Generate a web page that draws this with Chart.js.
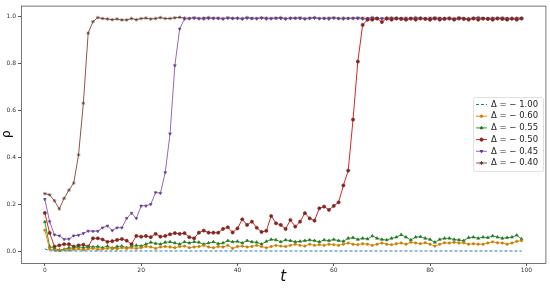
<!DOCTYPE html>
<html>
<head>
<meta charset="utf-8">
<script src="https://cdn.jsdelivr.net/npm/chart.js@4.4.1/dist/chart.umd.min.js"></script>
<style>
  html, body { margin: 0; padding: 0; background: #fff; }
  #wrap { width: 550px; height: 288px; position: relative; }
</style>
</head>
<body>
<div id="wrap"><canvas id="chart"></canvas></div>
<script>
// time steps 0..99
const steps = [
  0,1,2,3,4,5,6,7,8,9,10,11,12,13,14,15,16,17,18,19,
  20,21,22,23,24,25,26,27,28,29,30,31,32,33,34,35,36,37,38,39,
  40,41,42,43,44,45,46,47,48,49,50,51,52,53,54,55,56,57,58,59,
  60,61,62,63,64,65,66,67,68,69,70,71,72,73,74,75,76,77,78,79,
  80,81,82,83,84,85,86,87,88,89,90,91,92,93,94,95,96,97,98,99
];

const deltaLabels = ['Δ = − 1.00', 'Δ = − 0.60', 'Δ = − 0.55', 'Δ = − 0.50', 'Δ = − 0.45', 'Δ = − 0.40'];

const rhoM100 = [
  0.010,0.002,0.001,0.001,0.001,0.001,0.001,0.001,0.001,0.001,
  0.001,0.001,0.001,0.001,0.001,0.001,0.001,0.001,0.001,0.001,
  0.001,0.001,0.001,0.001,0.001,0.001,0.001,0.001,0.001,0.001,
  0.001,0.001,0.001,0.001,0.001,0.001,0.001,0.001,0.001,0.001,
  0.001,0.001,0.001,0.001,0.001,0.001,0.001,0.001,0.001,0.001,
  0.001,0.001,0.001,0.001,0.001,0.001,0.001,0.001,0.001,0.001,
  0.001,0.001,0.001,0.001,0.001,0.001,0.001,0.001,0.001,0.001,
  0.001,0.001,0.001,0.001,0.001,0.001,0.001,0.001,0.001,0.001,
  0.001,0.001,0.001,0.001,0.001,0.001,0.001,0.001,0.001,0.001,
  0.001,0.001,0.001,0.001,0.001,0.001,0.001,0.001,0.001,0.001
];
const rhoM060 = [
  0.090,0.010,0.005,0.003,0.008,0.005,0.008,0.010,0.006,0.010,
  0.012,0.008,0.010,0.012,0.015,0.010,0.015,0.012,0.015,0.012,
  0.015,0.020,0.018,0.012,0.018,0.020,0.018,0.015,0.020,0.022,
  0.015,0.018,0.020,0.025,0.018,0.015,0.020,0.018,0.025,0.012,
  0.020,0.022,0.018,0.020,0.025,0.020,0.015,0.020,0.025,0.022,
  0.020,0.025,0.030,0.025,0.022,0.030,0.025,0.028,0.025,0.030,
  0.028,0.025,0.030,0.035,0.030,0.028,0.032,0.030,0.025,0.030,
  0.035,0.030,0.028,0.032,0.035,0.030,0.038,0.035,0.032,0.036,
  0.030,0.022,0.030,0.036,0.035,0.038,0.035,0.036,0.030,0.032,
  0.030,0.030,0.035,0.040,0.036,0.035,0.030,0.035,0.042,0.045
];
const rhoM055 = [
  0.125,0.020,0.012,0.005,0.008,0.015,0.012,0.020,0.015,0.020,
  0.018,0.020,0.015,0.022,0.012,0.020,0.022,0.015,0.020,0.025,
  0.022,0.030,0.038,0.033,0.030,0.038,0.040,0.035,0.030,0.040,
  0.035,0.040,0.038,0.030,0.035,0.040,0.032,0.035,0.045,0.040,
  0.042,0.035,0.045,0.040,0.038,0.030,0.042,0.050,0.048,0.040,
  0.048,0.045,0.040,0.042,0.045,0.048,0.045,0.040,0.048,0.045,
  0.050,0.045,0.042,0.055,0.058,0.050,0.055,0.052,0.065,0.055,
  0.050,0.048,0.055,0.060,0.070,0.060,0.048,0.060,0.062,0.055,
  0.050,0.038,0.050,0.055,0.055,0.050,0.048,0.045,0.058,0.060,
  0.055,0.060,0.058,0.065,0.060,0.055,0.058,0.060,0.068,0.052
];
const rhoM050 = [
  0.163,0.078,0.020,0.025,0.030,0.030,0.020,0.025,0.028,0.020,
  0.055,0.055,0.050,0.040,0.043,0.048,0.052,0.045,0.030,0.065,
  0.062,0.065,0.060,0.074,0.062,0.065,0.072,0.077,0.074,0.077,
  0.060,0.055,0.079,0.088,0.079,0.079,0.079,0.095,0.102,0.080,
  0.097,0.136,0.112,0.126,0.100,0.082,0.087,0.150,0.119,0.112,
  0.095,0.133,0.105,0.126,0.162,0.140,0.130,0.183,0.190,0.176,
  0.193,0.208,0.280,0.343,0.560,0.807,0.963,0.985,0.985,0.990,
  0.975,0.990,0.985,0.990,0.988,0.985,0.990,0.985,0.990,0.988,
  0.985,0.990,0.985,0.988,0.990,0.985,0.990,0.988,0.985,0.990,
  0.985,0.990,0.988,0.985,0.990,0.988,0.985,0.990,0.985,0.990
];
const rhoM045 = [
  0.221,0.126,0.070,0.066,0.051,0.052,0.066,0.068,0.076,0.086,
  0.085,0.085,0.100,0.108,0.088,0.100,0.100,0.140,0.162,0.140,
  0.193,0.193,0.200,0.250,0.247,0.335,0.500,0.790,0.946,0.988,
  0.990,0.992,0.990,0.988,0.990,0.992,0.990,0.988,0.992,0.990,
  0.990,0.988,0.992,0.990,0.990,0.992,0.988,0.990,0.992,0.990,
  0.988,0.990,0.992,0.990,0.988,0.990,0.992,0.990,0.990,0.988,
  0.992,0.990,0.988,0.990,0.992,0.990,0.988,0.990,0.992,0.990,
  0.990,0.988,0.990,0.992,0.990,0.988,0.990,0.990,0.992,0.990,
  0.988,0.990,0.992,0.990,0.990,0.988,0.992,0.990,0.988,0.990,
  0.992,0.990,0.988,0.990,0.992,0.990,0.990,0.988,0.990,0.992
];
const rhoM040 = [
  0.245,0.240,0.215,0.180,0.225,0.260,0.290,0.410,0.630,0.928,
  0.977,0.994,0.990,0.988,0.985,0.988,0.984,0.984,0.990,0.985,
  0.990,0.992,0.988,0.990,0.994,0.990,0.990,0.993,0.995,0.992,
  0.990,0.993,0.990,0.992,0.994,0.990,0.992,0.990,0.993,0.991,
  0.992,0.990,0.994,0.991,0.990,0.993,0.992,0.990,0.991,0.994,
  0.990,0.992,0.991,0.993,0.990,0.992,0.994,0.990,0.991,0.992,
  0.993,0.990,0.992,0.991,0.990,0.993,0.992,0.990,0.994,0.991,
  0.990,0.992,0.993,0.990,0.991,0.992,0.990,0.994,0.991,0.990,
  0.992,0.993,0.990,0.991,0.992,0.990,0.993,0.991,0.990,0.992,
  0.994,0.990,0.991,0.992,0.990,0.993,0.991,0.990,0.992,0.991
];

const xTicks = [0, 20, 40, 60, 80, 100];
const yTicks = [0.0, 0.2, 0.4, 0.6, 0.8, 1.0];

const series = [rhoM100, rhoM060, rhoM055, rhoM050, rhoM045, rhoM040];
const colors = ['#1f77b4', '#ff7f0e', '#2ca02c', '#d62728', '#9467bd', '#8c564b'];
const edgeColors = ['#1f77b4', '#b8860b', '#2a6e2a', '#7a2a22', '#5e3f8a', '#5a3a33'];
const markers = [
  { style: 'circle', radius: 0, rotation: 0 },
  { style: 'circle', radius: 1.2, rotation: 0 },
  { style: 'triangle', radius: 1.7, rotation: 0 },
  { style: 'circle', radius: 1.6, rotation: 0 },
  { style: 'triangle', radius: 1.6, rotation: 180 },
  { style: 'star', radius: 1.8, rotation: 0 }
];

const datasets = series.map((vals, i) => ({
  label: deltaLabels[i],
  data: steps.map((t, k) => ({ x: t, y: vals[k] })),
  borderColor: colors[i],
  backgroundColor: colors[i],
  pointBorderColor: edgeColors[i],
  pointBackgroundColor: edgeColors[i],
  borderWidth: 1,
  borderDash: i === 0 ? [3, 2] : [],
  pointStyle: markers[i].style,
  pointRadius: markers[i].radius,
  pointRotation: markers[i].rotation,
  pointBorderWidth: 0.6,
  tension: 0
}));

// matplotlib-like frame around the axes
const framePlugin = {
  id: 'frame',
  afterDatasetsDraw(chart) {
    const { ctx, chartArea: a } = chart;
    ctx.save();
    ctx.strokeStyle = '#555';
    ctx.lineWidth = 0.8;
    ctx.strokeRect(a.left + 0.5, a.top + 0.5, a.right - a.left, a.bottom - a.top);
    ctx.restore();
  }
};

// legend box inside the axes, right side
const boxLegend = {
  id: 'boxLegend',
  afterDraw(chart) {
    const { ctx } = chart;
    const x0 = 473, y0 = 97, w = 70, h = 74, row = 11.7;
    ctx.save();
    ctx.fillStyle = 'rgba(255,255,255,0.85)';
    ctx.strokeStyle = '#d8d8d8';
    ctx.lineWidth = 0.8;
    ctx.beginPath();
    ctx.roundRect(x0 + 0.5, y0 + 0.5, w, h, 2);
    ctx.fill();
    ctx.stroke();
    ctx.font = '8.5px "DejaVu Sans"';
    ctx.textBaseline = 'middle';
    chart.data.datasets.forEach((ds, i) => {
      const y = y0 + 7.5 + i * row;
      ctx.strokeStyle = ds.borderColor;
      ctx.lineWidth = 1;
      ctx.setLineDash(ds.borderDash);
      ctx.beginPath();
      ctx.moveTo(x0 + 3, y);
      ctx.lineTo(x0 + 14, y);
      ctx.stroke();
      ctx.setLineDash([]);
      if (ds.pointRadius > 0) {
        ctx.fillStyle = ds.pointBackgroundColor;
        ctx.strokeStyle = ds.pointBorderColor;
        Chart.helpers.drawPoint(ctx, {
          pointStyle: ds.pointStyle, rotation: ds.pointRotation,
          radius: ds.pointRadius, borderWidth: 0.6
        }, x0 + 8.5, y);
      }
      ctx.fillStyle = '#222';
      ctx.fillText(ds.label, x0 + 18, y);
    });
    ctx.restore();
  }
};

new Chart(document.getElementById('chart'), {
  type: 'line',
  data: { datasets },
  plugins: [framePlugin, boxLegend],
  options: {
    responsive: true,
    maintainAspectRatio: false,
    animation: false,
    layout: { padding: { top: 5, right: 4, left: 0, bottom: 0 } },
    plugins: {
      legend: { display: false },
      tooltip: { enabled: false }
    },
    scales: {
      x: {
        type: 'linear',
        min: -4.95,
        max: 103.95,
        afterBuildTicks: (s) => { s.ticks = xTicks.map(v => ({ value: v })); },
        afterFit: (s) => { s.height = 25; },
        grid: { drawOnChartArea: false, drawTicks: true, tickLength: 3, color: '#555' },
        border: { display: false },
        ticks: {
          font: { family: 'DejaVu Sans', size: 6 },
          color: '#333',
          padding: 1,
          maxRotation: 0,
          callback: (v) => String(v)
        },
        title: {
          display: true,
          text: 't',
          color: '#111',
          font: { family: 'DejaVu Sans', size: 15, style: 'italic' },
          padding: { top: 0, bottom: 2 }
        }
      },
      y: {
        min: -0.05,
        max: 1.045,
        afterBuildTicks: (s) => { s.ticks = yTicks.map(v => ({ value: v })); },
        afterFit: (s) => { s.width = 21; },
        grid: { drawOnChartArea: false, drawTicks: true, tickLength: 3, color: '#555' },
        border: { display: false },
        ticks: {
          font: { family: 'DejaVu Sans', size: 6 },
          color: '#333',
          padding: 2,
          callback: (v) => v.toFixed(1)
        },
        title: {
          display: true,
          text: 'ρ',
          color: '#111',
          font: { family: 'DejaVu Sans', size: 12 },
          padding: { top: 0, bottom: 0 }
        }
      }
    }
  }
});
</script>
</body>
</html>
